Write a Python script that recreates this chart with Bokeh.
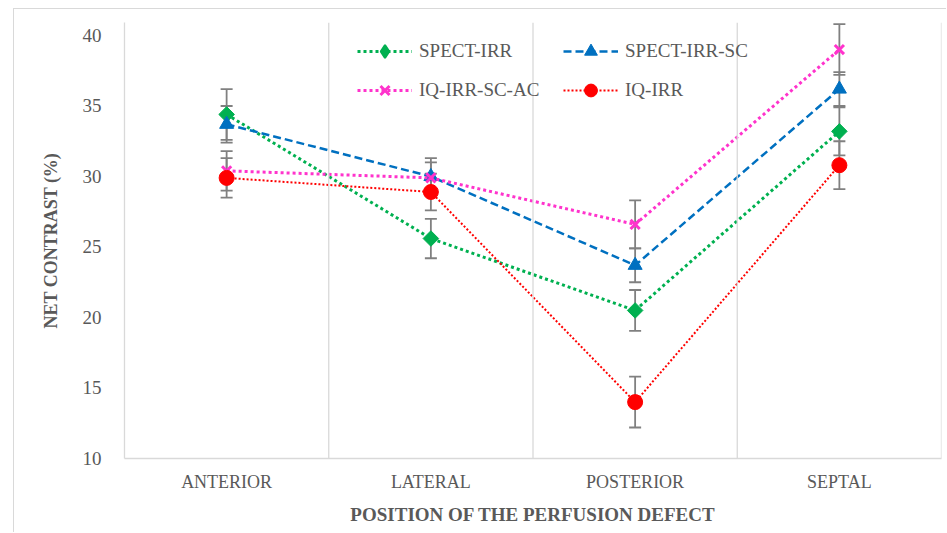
import math
from bokeh.plotting import figure
from bokeh.models import (ColumnDataSource, Whisker, TeeHead, Span, Legend, LegendItem,
                          FactorRange)
from bokeh.embed import file_html
from bokeh.resources import INLINE

categories = ["ANTERIOR", "LATERAL", "POSTERIOR", "SEPTAL"]

spect_irr = [34.4, 25.6, 20.5, 33.2]
spect_irr_err = [1.8, 1.4, 1.45, 1.7]

spect_irr_sc = [33.7, 30.0, 23.7, 36.2]
spect_irr_sc_err = [1.3, 1.3, 1.2, 1.2]

iq_irr_sc_ac = [30.4, 29.9, 26.6, 39.0]
iq_irr_sc_ac_err = [1.4, 1.1, 1.7, 1.8]

iq_irr = [29.9, 28.9, 14.0, 30.8]
iq_irr_err = [1.4, 1.3, 1.8, 1.7]

y_ticks = [10, 15, 20, 25, 30, 35, 40]

FONT = "Liberation Serif"
TXT = "#595959"

p = figure(width=933, height=524, x_range=FactorRange(*categories, range_padding=0),
           y_range=(10, 40.92), output_backend="svg", toolbar_location=None,
           min_border_left=110, min_border_top=13, min_border_right=6, min_border_bottom=75)
# outer chart border (left and top edges visible in the picture)
p.margin = (8, 0, 0, 13)
p.styles = {"border-left": "1px solid #D9D9D9", "border-top": "1px solid #D9D9D9"}
p.outline_line_color = None
p.xgrid.grid_line_color = None
p.ygrid.grid_line_color = None

# axes
p.yaxis.ticker = y_ticks
p.yaxis.axis_line_color = "#D9D9D9"
p.yaxis.axis_line_width = 1.3
p.yaxis.major_tick_line_color = None
p.yaxis.minor_tick_line_color = None
p.yaxis.major_label_text_font = FONT
p.yaxis.major_label_text_font_size = "19px"
p.yaxis.major_label_text_color = TXT
p.yaxis.major_label_standoff = 17
p.yaxis.axis_label = "NET CONTRAST (%)"
p.yaxis.axis_label_text_font = FONT
p.yaxis.axis_label_text_font_style = "bold"
p.yaxis.axis_label_text_font_size = "18px"
p.yaxis.axis_label_text_color = TXT
p.yaxis.axis_label_standoff = 19

p.xaxis.axis_line_color = "#D9D9D9"
p.xaxis.axis_line_width = 1.5
p.xaxis.major_tick_line_color = None
p.xaxis.minor_tick_line_color = None
p.xaxis.major_label_text_font = FONT
p.xaxis.major_label_text_font_size = "18px"
p.xaxis.major_label_text_color = TXT
p.xaxis.major_label_standoff = 7
p.xaxis.axis_label = "POSITION OF THE PERFUSION DEFECT"
p.xaxis.axis_label_text_font = FONT
p.xaxis.axis_label_text_font_style = "bold"
p.xaxis.axis_label_text_font_size = "19px"
p.xaxis.axis_label_text_color = TXT
p.xaxis.axis_label_standoff = 9

# vertical separators at category boundaries
for i in range(1, len(categories) + 1):
    p.add_layout(Span(location=i, dimension="height", line_color="#D9D9D9", line_width=1.3))

series = [
    ("SPECT-IRR", spect_irr, spect_irr_err, "#00B050",
     dict(line_width=3, line_dash="3 3"), dict(marker="square", angle=math.pi / 4, size=11)),
    ("SPECT-IRR-SC", spect_irr_sc, spect_irr_sc_err, "#0070C0",
     dict(line_width=2.5, line_dash="8 4"), dict(marker="triangle", size=14)),
    ("IQ-IRR-SC-AC", iq_irr_sc_ac, iq_irr_sc_ac_err, "#FF33CC",
     dict(line_width=3, line_dash="3 3"), dict(marker="x", size=13, line_width=3)),
    ("IQ-IRR", iq_irr, iq_irr_err, "#FF0000",
     dict(line_width=2, line_dash="2 2"), dict(marker="circle", size=15)),
]

items = []
for name, vals, errs, color, lkw, mkw in series:
    src = ColumnDataSource(dict(
        x=categories, y=vals,
        lo=[v - e for v, e in zip(vals, errs)],
        hi=[v + e for v, e in zip(vals, errs)],
    ))
    w = Whisker(source=src, base="x", lower="lo", upper="hi", line_color="#808080",
                line_width=1.8, level="underlay",
                upper_head=TeeHead(size=12, line_color="#808080", line_width=1.8),
                lower_head=TeeHead(size=12, line_color="#808080", line_width=1.8))
    p.add_layout(w)
    r1 = p.line("x", "y", source=src, line_color=color, **lkw)
    r2 = p.scatter("x", "y", source=src, fill_color=color, line_color=color, **mkw)
    legend_marker = r2
    if mkw["marker"] == "square":
        # legend swatch: unrotated diamond (legend ignores marker angle);
        # zero size in the plot, the legend sizes its swatch itself
        legend_marker = p.scatter("x", "y", source=src, marker="diamond", size=0,
                                  fill_color=color, line_color=color, line_width=2)
    items.append(LegendItem(label=name, renderers=[r1, legend_marker]))

legend = Legend(items=items, location=(233, 352), orientation="horizontal", ncols=2,
                padding=0, margin=0, spacing=7, glyph_width=55, glyph_height=32,
                label_height=32, label_width=137, label_standoff=7,
                label_text_font=FONT, label_text_font_size="19px", label_text_color=TXT,
                background_fill_alpha=0, border_line_color=None)
p.add_layout(legend, "center")

open("out.html", "w").write(file_html(p, INLINE))
